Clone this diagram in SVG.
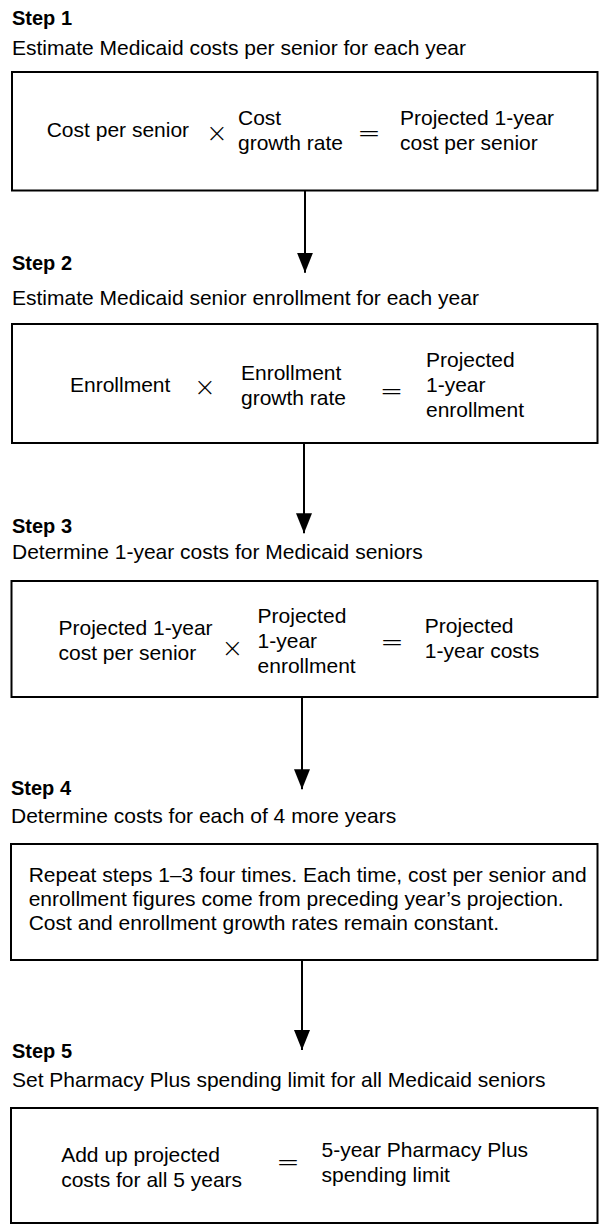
<svg xmlns="http://www.w3.org/2000/svg" width="600" height="1230" viewBox="0 0 600 1230">
<style>
  .box { fill: #ffffff; stroke: #000000; stroke-width: 2; }
  .step { font-family: "Liberation Sans", Arial, sans-serif; font-size: 20px; font-weight: bold; fill: #000; }
  .sub { font-family: "Liberation Sans", Arial, sans-serif; font-size: 21px; fill: #000; }
  .t { font-family: "Liberation Sans", Arial, sans-serif; font-size: 21px; fill: #000; }
  .times { font-family: "DejaVu Sans", "Liberation Sans", sans-serif; font-size: 26px; font-weight: 200; fill: #000; text-anchor: middle; }
  .eq { font-family: "DejaVu Sans", "Liberation Sans", sans-serif; font-size: 28px; font-weight: 200; fill: #000; text-anchor: middle; }
  .conn { stroke: #000; stroke-width: 2; fill: none; marker-end: url(#arrow); }
</style>
<defs>
  <marker id="arrow" markerUnits="userSpaceOnUse" markerWidth="21" markerHeight="16" refX="20" refY="8" orient="auto" viewBox="0 0 21 16">
    <path d="M0,0 L20,8 L0,16 Z" fill="#000"/>
  </marker>
</defs>
<rect width="600" height="1230" fill="#ffffff"/>

<g id="connectors">
  <line class="conn" x1="305" y1="191" x2="305" y2="272.7"/>
  <line class="conn" x1="304" y1="444" x2="304" y2="533.3"/>
  <line class="conn" x1="302" y1="698" x2="302" y2="789.3"/>
  <line class="conn" x1="302" y1="961" x2="302" y2="1050"/>
</g>

<g id="step1">
  <text class="step" x="12" y="25">Step 1</text>
  <text class="sub" x="12" y="55">Estimate Medicaid costs per senior for each year</text>
  <rect class="box" x="12" y="72" width="585.5" height="118.5"/>
  <text class="t" x="46.7" y="136.7">Cost per senior</text>
  <text class="times" x="217" y="142">×</text>
  <text class="t" x="238" y="125">Cost</text>
  <text class="t" x="238" y="150">growth rate</text>
  <text class="eq" x="369" y="142">=</text>
  <text class="t" x="400" y="125">Projected 1-year</text>
  <text class="t" x="400" y="150">cost per senior</text>
</g>

<g id="step2">
  <text class="step" x="12" y="270">Step 2</text>
  <text class="sub" x="12" y="305">Estimate Medicaid senior enrollment for each year</text>
  <rect class="box" x="12" y="324" width="585.5" height="119"/>
  <text class="t" x="70" y="391.7">Enrollment</text>
  <text class="times" x="205" y="396">×</text>
  <text class="t" x="241" y="380">Enrollment</text>
  <text class="t" x="241" y="405">growth rate</text>
  <text class="eq" x="391.5" y="400">=</text>
  <text class="t" x="426" y="366.7">Projected</text>
  <text class="t" x="426" y="391.7">1-year</text>
  <text class="t" x="426" y="416.7">enrollment</text>
</g>

<g id="step3">
  <text class="step" x="12" y="533">Step 3</text>
  <text class="sub" x="12" y="559">Determine 1-year costs for Medicaid seniors</text>
  <rect class="box" x="11.5" y="581" width="586" height="116"/>
  <text class="t" x="58.5" y="635">Projected 1-year</text>
  <text class="t" x="58.5" y="659.5">cost per senior</text>
  <text class="times" x="232.5" y="657">×</text>
  <text class="t" x="257.6" y="622.7">Projected</text>
  <text class="t" x="257.6" y="648">1-year</text>
  <text class="t" x="257.6" y="673">enrollment</text>
  <text class="eq" x="392" y="651">=</text>
  <text class="t" x="424.8" y="633.3">Projected</text>
  <text class="t" x="424.8" y="658.3">1-year costs</text>
</g>

<g id="step4">
  <text class="step" x="11" y="795">Step 4</text>
  <text class="sub" x="11" y="823">Determine costs for each of 4 more years</text>
  <rect class="box" x="11" y="844" width="586.5" height="116"/>
  <text class="t" x="28.7" y="881.5">Repeat steps 1–3 four times. Each time, cost per senior and</text>
  <text class="t" x="28.7" y="905.5">enrollment figures come from preceding year’s projection.</text>
  <text class="t" x="28.7" y="929.5">Cost and enrollment growth rates remain constant.</text>
</g>

<g id="step5">
  <text class="step" x="12" y="1058">Step 5</text>
  <text class="sub" x="12" y="1087">Set Pharmacy Plus spending limit for all Medicaid seniors</text>
  <rect class="box" x="11" y="1108" width="586.5" height="115"/>
  <text class="t" x="61.2" y="1161.7">Add up projected</text>
  <text class="t" x="61.2" y="1186.7">costs for all 5 years</text>
  <text class="eq" x="288" y="1170.5">=</text>
  <text class="t" x="321.5" y="1156.7">5-year Pharmacy Plus</text>
  <text class="t" x="321.5" y="1181.7">spending limit</text>
</g>
</svg>
